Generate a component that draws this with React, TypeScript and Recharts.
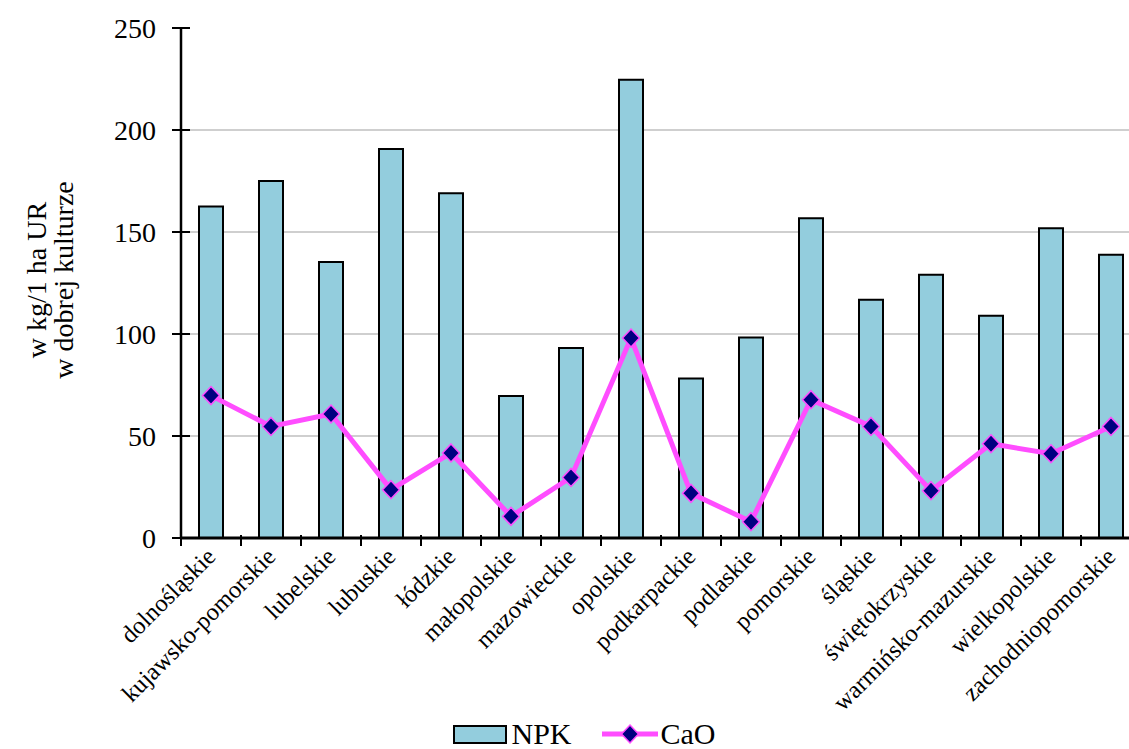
import React from "react";
import {
  ComposedChart,
  Bar,
  Line,
  XAxis,
  YAxis,
  CartesianGrid,
  Legend,
} from "recharts";

const regions = [
  "dolnośląskie",
  "kujawsko-pomorskie",
  "lubelskie",
  "lubuskie",
  "łódzkie",
  "małopolskie",
  "mazowieckie",
  "opolskie",
  "podkarpackie",
  "podlaskie",
  "pomorskie",
  "śląskie",
  "świętokrzyskie",
  "warmińsko-mazurskie",
  "wielkopolskie",
  "zachodniopomorskie",
];

const npkValues = [162.5, 175, 135.3, 190.7, 169, 69.6, 93.1, 224.6, 78.2, 98.3, 156.7, 116.8, 129, 109, 151.8, 138.9];
const caoValues = [69.8, 54.7, 60.8, 23.7, 41.7, 10.6, 29.7, 98, 21.9, 8.0, 67.8, 54.7, 23.2, 46.2, 41.3, 54.7];

const yTicks = [0, 50, 100, 150, 200, 250];
const gridValues = [50, 100, 150, 200];

const data = regions.map((name, i) => ({ name, NPK: npkValues[i], CaO: caoValues[i] }));

const FONT = '"Liberation Serif", "Times New Roman", serif';
const BAR_FILL = "#93CDDD";
const LINE_COLOR = "#FF4DFF";
const MARKER_FILL = "#000080";

const Diamond = (props: any) => {
  const { cx, cy } = props;
  if (cx == null || cy == null) return null;
  const w = 8.5;
  const h = 9;
  return (
    <polygon
      points={`${cx},${cy - h} ${cx + w},${cy} ${cx},${cy + h} ${cx - w},${cy}`}
      fill={MARKER_FILL}
      stroke={LINE_COLOR}
      strokeWidth={1.5}
    />
  );
};

const XTick = (props: any) => {
  const { x, y, payload } = props;
  const half = payload.offset ?? 0;
  const last = payload.index === regions.length - 1;
  const tx = x + 6;
  const ty = y + 20;
  return (
    <g>
      <line x1={x - half} x2={x - half} y1={y - 3} y2={y + 8} stroke="#000" strokeWidth={2} />
      {last && <line x1={x + half} x2={x + half} y1={y - 3} y2={y + 8} stroke="#000" strokeWidth={2} />}
      <text
        x={tx}
        y={ty}
        transform={`rotate(-45, ${tx}, ${ty})`}
        textAnchor="end"
        fontFamily={FONT}
        fontSize={24.5}
        fill="#000"
      >
        {payload.value}
      </text>
    </g>
  );
};

const YTick = (props: any) => {
  const { x, y, payload } = props;
  return (
    <g>
      <line x1={x - 9} x2={x + 9} y1={y} y2={y} stroke="#000" strokeWidth={2} />
      <text
        x={x - 25}
        y={y}
        textAnchor="end"
        dominantBaseline="central"
        fontFamily={FONT}
        fontSize={28}
        fill="#000"
      >
        {payload.value}
      </text>
    </g>
  );
};

const YTitle = (props: any) => {
  const { viewBox } = props;
  const cy = viewBox.y + viewBox.height / 2 - 3;
  const lines = ["w kg/1 ha UR", "w dobrej kulturze"];
  const xs = [36, 63];
  return (
    <g>
      {lines.map((t, i) => (
        <text
          key={t}
          x={xs[i]}
          y={cy}
          transform={`rotate(-90, ${xs[i]}, ${cy})`}
          textAnchor="middle"
          dominantBaseline="central"
          fontFamily={FONT}
          fontSize={28}
          fill="#000"
        >
          {t}
        </text>
      ))}
    </g>
  );
};

const LegendBox = () => (
  <div
    style={{
      display: "flex",
      justifyContent: "center",
      alignItems: "center",
      height: 36,
      paddingLeft: 28,
      fontFamily: FONT,
      fontSize: 30,
      lineHeight: "36px",
      color: "#000",
    }}
  >
    <svg width={54} height={19}>
      <rect x={1} y={1} width={52} height={17} fill={BAR_FILL} stroke="#000" strokeWidth={2} />
    </svg>
    <span style={{ marginLeft: 4, marginRight: 30 }}>NPK</span>
    <svg width={56} height={22}>
      <line x1={0} x2={56} y1={11} y2={11} stroke={LINE_COLOR} strokeWidth={5} />
      <Diamond cx={28} cy={11} />
    </svg>
    <span style={{ marginLeft: 3 }}>CaO</span>
  </div>
);

export default function App() {
  return (
    <div
      style={{
        position: "fixed",
        left: 0,
        top: 0,
        width: 1129,
        height: 749,
        overflow: "hidden",
        background: "#fff",
      }}
    >
      <ComposedChart
        width={1160}
        height={770}
        data={data}
        margin={{ top: 28, right: 19, left: 0, bottom: 18 }}
      >
        <CartesianGrid
          vertical={false}
          horizontalValues={gridValues}
          stroke="#BFBFBF"
          strokeWidth={1.5}
        />
        <XAxis
          dataKey="name"
          interval={0}
          height={178}
          tickSize={0}
          tickMargin={0}
          tick={<XTick />}
          axisLine={{ stroke: "#000", strokeWidth: 3 }}
        />
        <YAxis
          width={181}
          domain={[0, 250]}
          ticks={yTicks}
          tickSize={0}
          tickMargin={0}
          tick={<YTick />}
          axisLine={{ stroke: "#000", strokeWidth: 2.5 }}
          label={<YTitle />}
        />
        <Legend verticalAlign="bottom" content={<LegendBox />} />
        <Bar
          dataKey="NPK"
          barSize={24}
          fill={BAR_FILL}
          stroke="#000"
          strokeWidth={2}
          isAnimationActive={false}
        />
        <Line
          dataKey="CaO"
          type="linear"
          stroke={LINE_COLOR}
          strokeWidth={5}
          dot={<Diamond />}
          activeDot={false}
          isAnimationActive={false}
        />
      </ComposedChart>
    </div>
  );
}
